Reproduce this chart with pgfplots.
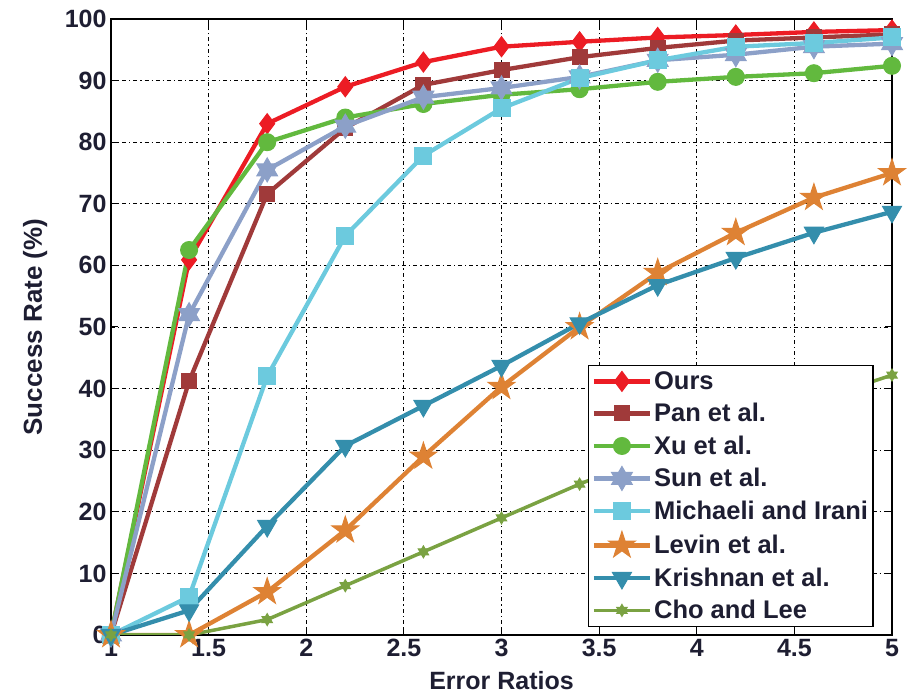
\documentclass[border=0pt]{standalone}
\usepackage{fontspec}
\setmainfont{Liberation Sans}
\usepackage{pgfplots}
\pgfplotsset{compat=1.18}
\usetikzlibrary{plotmarks,calc}
\definecolor{cOurs}{RGB}{236,28,36}
\definecolor{cPan}{RGB}{160,58,58}
\definecolor{cXu}{RGB}{98,185,62}
\definecolor{cSun}{RGB}{140,160,200}
\definecolor{cMich}{RGB}{108,202,222}
\definecolor{cLevin}{RGB}{222,130,52}
\definecolor{cKri}{RGB}{52,142,172}
\definecolor{cCho}{RGB}{122,162,66}
\definecolor{txt}{RGB}{30,30,50}
\pgfdeclareplotmark{pentagram}{%
  \pgfpathmoveto{\pgfpointpolar{90}{\pgfplotmarksize}}%
  \pgfpathlineto{\pgfpointpolar{126}{0.382\pgfplotmarksize}}%
  \pgfpathlineto{\pgfpointpolar{162}{\pgfplotmarksize}}%
  \pgfpathlineto{\pgfpointpolar{198}{0.382\pgfplotmarksize}}%
  \pgfpathlineto{\pgfpointpolar{234}{\pgfplotmarksize}}%
  \pgfpathlineto{\pgfpointpolar{270}{0.382\pgfplotmarksize}}%
  \pgfpathlineto{\pgfpointpolar{306}{\pgfplotmarksize}}%
  \pgfpathlineto{\pgfpointpolar{342}{0.382\pgfplotmarksize}}%
  \pgfpathlineto{\pgfpointpolar{18}{\pgfplotmarksize}}%
  \pgfpathlineto{\pgfpointpolar{54}{0.382\pgfplotmarksize}}%
  \pgfpathclose\pgfusepathqfillstroke}
\pgfdeclareplotmark{hexagram}{%
  \pgfpathmoveto{\pgfpointpolar{90}{\pgfplotmarksize}}%
  \pgfpathlineto{\pgfpointpolar{120}{0.577\pgfplotmarksize}}%
  \pgfpathlineto{\pgfpointpolar{150}{\pgfplotmarksize}}%
  \pgfpathlineto{\pgfpointpolar{180}{0.577\pgfplotmarksize}}%
  \pgfpathlineto{\pgfpointpolar{210}{\pgfplotmarksize}}%
  \pgfpathlineto{\pgfpointpolar{240}{0.577\pgfplotmarksize}}%
  \pgfpathlineto{\pgfpointpolar{270}{\pgfplotmarksize}}%
  \pgfpathlineto{\pgfpointpolar{300}{0.577\pgfplotmarksize}}%
  \pgfpathlineto{\pgfpointpolar{330}{\pgfplotmarksize}}%
  \pgfpathlineto{\pgfpointpolar{0}{0.577\pgfplotmarksize}}%
  \pgfpathlineto{\pgfpointpolar{30}{\pgfplotmarksize}}%
  \pgfpathlineto{\pgfpointpolar{60}{0.577\pgfplotmarksize}}%
  \pgfpathclose\pgfusepathqfillstroke}
\begin{document}
\begin{tikzpicture}
\begin{axis}[
  name=ax,
  scale only axis, width=781pt, height=616pt,
  xmin=1, xmax=5, ymin=0, ymax=100,
  xtick={1,1.5,2,2.5,3,3.5,4,4.5,5},
  ytick={0,10,20,30,40,50,60,70,80,90,100},
  grid=major,
  grid style={black, dash pattern=on 4pt off 3pt on 1.2pt off 3pt, line width=0.9pt},
  tick align=inside, major tick length=7pt,
  tick style={black, line width=1pt},
  axis line style={black, line width=1.3pt},
  /pgf/number format/assume math mode=true,
  ticklabel style={font=\fontsize{25}{25}\selectfont\bfseries, text=txt},
  xticklabel style={yshift=-1pt},
  yticklabel style={xshift=-1pt},
  xlabel={Error Ratios},
  ylabel={Success Rate (\%)},
  xlabel style={font=\fontsize{25}{25}\selectfont\bfseries, text=txt, at={(axis description cs:0.5,-0.058)}, anchor=north, inner sep=0pt},
  ylabel style={font=\fontsize{26}{26}\selectfont\bfseries, text=txt, at={(axis description cs:-0.097,0.5)}, anchor=center},
  legend style={at={(axis description cs:0.611,0.013)}, anchor=south west,
    font=\fontsize{25.5}{28}\selectfont\bfseries, text=txt, draw=black, line width=1.2pt,
    row sep=8.5pt, inner xsep=3pt, inner ysep=4pt, cells={anchor=west}},
  legend image code/.code={\draw[mark repeat=2,mark phase=2] plot coordinates {(0pt,0pt)(28pt,0pt)(56pt,0pt)};},
  every axis plot/.append style={line width=4.3pt},
]
\addplot[cOurs, mark=diamond*, mark size=10pt, mark options={solid,line width=1pt,fill=cOurs}] coordinates {
 (1,0) (1.4,60.9) (1.8,83) (2.2,89) (2.6,93) (3,95.5) (3.4,96.3) (3.8,97) (4.2,97.4) (4.6,97.9) (5,98.2)};
\addlegendentry{Ours}
\addplot[cPan, mark=square*, mark size=7.5pt, mark options={solid,line width=1pt,fill=cPan}] coordinates {
 (1,0) (1.4,41.2) (1.8,71.6) (2.2,82.3) (2.6,89.3) (3,91.7) (3.4,93.8) (3.8,95.3) (4.2,96.5) (4.6,97) (5,97.5)};
\addlegendentry{Pan et al.}
\addplot[cXu, mark=*, mark size=8.5pt, mark options={solid,line width=1pt,fill=cXu}] coordinates {
 (1,0) (1.4,62.5) (1.8,80) (2.2,84) (2.6,86.2) (3,87.7) (3.4,88.6) (3.8,89.8) (4.2,90.6) (4.6,91.2) (5,92.4)};
\addlegendentry{Xu et al.}
\addplot[cSun, mark=hexagram, mark size=12pt, mark options={solid,line width=1pt,fill=cSun}] coordinates {
 (1,0) (1.4,52) (1.8,75.5) (2.2,82.6) (2.6,87.3) (3,88.8) (3.4,90.6) (3.8,93.3) (4.2,94.2) (4.6,95.5) (5,96)};
\addlegendentry{Sun et al.}
\addplot[cMich, mark=square*, mark size=8.5pt, mark options={solid,line width=1pt,fill=cMich}] coordinates {
 (1,0) (1.4,6.2) (1.8,42) (2.2,64.8) (2.6,77.8) (3,85.5) (3.4,90.4) (3.8,93.3) (4.2,95.5) (4.6,96.1) (5,97)};
\addlegendentry{Michaeli and Irani}
\addplot[cLevin, mark=pentagram, mark size=14pt, mark options={solid,line width=1pt,fill=cLevin}] coordinates {
 (1,0) (1.4,0) (1.8,7) (2.2,17) (2.6,29) (3,40.3) (3.4,50) (3.8,58.8) (4.2,65.3) (4.6,71) (5,75)};
\addlegendentry{Levin et al.}
\addplot[cKri, mark=triangle*, mark size=11pt, mark options={solid,line width=1pt,fill=cKri,rotate=180}] coordinates {
 (1,0) (1.4,4) (1.8,17.7) (2.2,30.7) (2.6,37.2) (3,43.7) (3.4,50.6) (3.8,56.8) (4.2,61.2) (4.6,65.3) (5,68.7)};
\addlegendentry{Krishnan et al.}
\addplot[cCho, line width=3.5pt, mark=hexagram, mark size=6pt, mark options={solid,line width=1pt,fill=cCho}] coordinates {
 (1,0) (1.4,0) (1.8,2.5) (2.2,8) (2.6,13.5) (3,19) (3.4,24.5) (3.8,29.5) (4.2,34) (4.6,38) (5,42.2)};
\addlegendentry{Cho and Lee}
\end{axis}
\pgfresetboundingbox
\path ($(ax.south west)+(-111pt,-62pt)$) rectangle ($(ax.north east)+(23pt,19pt)$);
\end{tikzpicture}
\end{document}
